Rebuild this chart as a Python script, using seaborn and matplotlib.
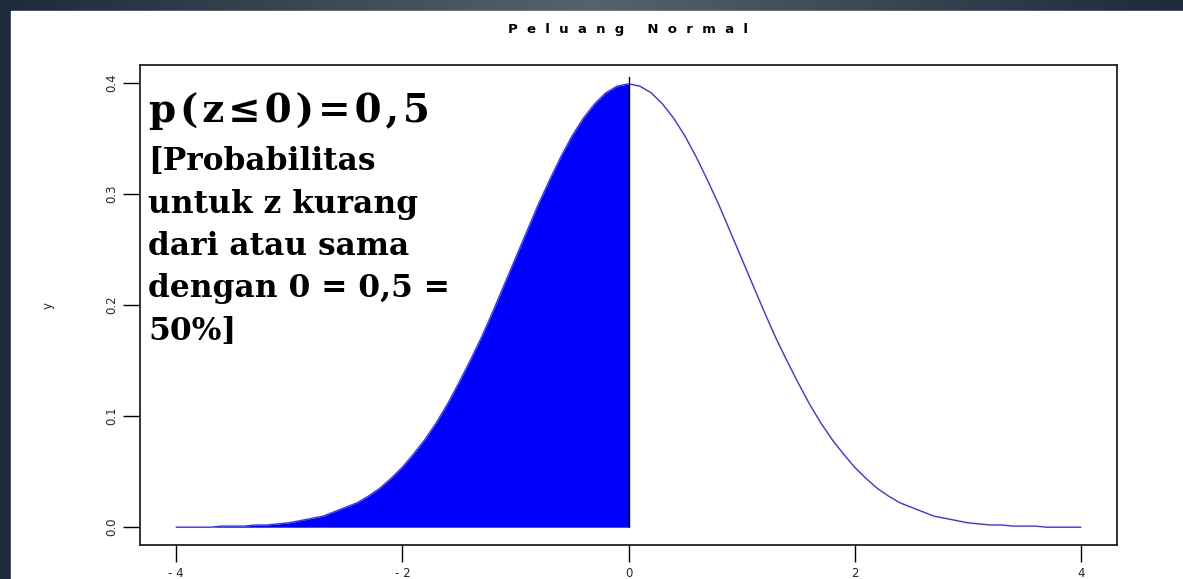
import numpy as np
import pandas as pd
import matplotlib
matplotlib.use("Agg")
import matplotlib.pyplot as plt
import seaborn as sns

# ---- data (standard normal density) ----
z_values = [-4.0, -3.9, -3.8, -3.7, -3.6, -3.5, -3.4, -3.3, -3.2, -3.1,
            -3.0, -2.9, -2.8, -2.7, -2.6, -2.5, -2.4, -2.3, -2.2, -2.1,
            -2.0, -1.9, -1.8, -1.7, -1.6, -1.5, -1.4, -1.3, -1.2, -1.1,
            -1.0, -0.9, -0.8, -0.7, -0.6, -0.5, -0.4, -0.3, -0.2, -0.1,
            0.0, 0.1, 0.2, 0.3, 0.4, 0.5, 0.6, 0.7, 0.8, 0.9,
            1.0, 1.1, 1.2, 1.3, 1.4, 1.5, 1.6, 1.7, 1.8, 1.9,
            2.0, 2.1, 2.2, 2.3, 2.4, 2.5, 2.6, 2.7, 2.8, 2.9,
            3.0, 3.1, 3.2, 3.3, 3.4, 3.5, 3.6, 3.7, 3.8, 3.9, 4.0]
density = [0.000, 0.000, 0.000, 0.000, 0.001, 0.001, 0.001, 0.002, 0.002, 0.003,
           0.004, 0.006, 0.008, 0.010, 0.014, 0.018, 0.022, 0.028, 0.035, 0.044,
           0.054, 0.066, 0.079, 0.094, 0.111, 0.130, 0.150, 0.171, 0.194, 0.218,
           0.242, 0.266, 0.290, 0.312, 0.333, 0.352, 0.368, 0.381, 0.391, 0.397,
           0.399, 0.397, 0.391, 0.381, 0.368, 0.352, 0.333, 0.312, 0.290, 0.266,
           0.242, 0.218, 0.194, 0.171, 0.150, 0.130, 0.111, 0.094, 0.079, 0.066,
           0.054, 0.044, 0.035, 0.028, 0.022, 0.018, 0.014, 0.010, 0.008, 0.006,
           0.004, 0.003, 0.002, 0.002, 0.001, 0.001, 0.001, 0.000, 0.000, 0.000, 0.000]
x_ticks = [-4, -2, 0, 2, 4]
x_tick_labels = ["- 4", "- 2", "0", "2", "4"]
y_ticks = [0.0, 0.1, 0.2, 0.3, 0.4]
y_tick_labels = ["0.0", "0.1", "0.2", "0.3", "0.4"]
shade_upper = 0.0
title_text = "P  e  l  u  a  n  g     N  o  r  m  a  l"
note_head = "p\u200a(\u200az\u200a≤\u200a0\u200a)\u200a=\u200a0\u200a,\u200a5"
note_lines = ["[Probabilitas", "untuk z kurang", "dari atau sama", "dengan 0 = 0,5 =", "50%]"]

df = pd.DataFrame({"z": z_values, "y": density})

W, H = 1183, 579
sns.set_theme(style="white")
plt.rcParams["font.family"] = ["DejaVu Sans"]
fig = plt.figure(figsize=(W / 100, H / 100), dpi=100)
fig.patch.set_facecolor("white")

# background slide gradient
bg = fig.add_axes([0, 0, 1, 1], zorder=-10)
grad = np.linspace(0, 1, 256)
prof = 1 - np.abs(grad - 0.5) * 2
c_dark = np.array([0x1b, 0x2b, 0x3c]) / 255
c_light = np.array([0x57, 0x62, 0x6c]) / 255
img = c_dark[None, :] + (c_light - c_dark)[None, :] * prof[:, None]
bg.imshow(img[None, :, :], aspect="auto", extent=[0, 1, 0, 1])
bg.add_patch(plt.Rectangle((11 / W, 0), 1, 1 - 11 / H, color="white", zorder=5))
bg.set_xlim(0, 1); bg.set_ylim(0, 1); bg.axis("off")

ax = fig.add_axes([140 / W, 34 / H, 977 / W, 480 / H])
ax.set_facecolor("white")

left = df[df["z"] <= shade_upper]
ax.fill_between(left["z"], 0, left["y"], color="#0000ff", linewidth=0, zorder=2)
sns.lineplot(data=df, x="z", y="y", ax=ax, color="#3333ff", linewidth=1.0,
             estimator=None, sort=True, zorder=3)
ax.plot([shade_upper, shade_upper], [0, 0.405], color="black", linewidth=1.0, zorder=4)

ax.set_xlim(-4.32, 4.32)
ax.set_ylim(-0.016, 0.416)
ax.set_xticks(x_ticks)
ax.set_xticklabels(x_tick_labels, fontsize=8.5)
ax.set_yticks(y_ticks)
ax.set_yticklabels(y_tick_labels, fontsize=8.5, rotation=90, va="center")
ax.tick_params(axis="both", direction="out", length=12, width=1, color="black",
               bottom=True, left=True, pad=4)
for s in ax.spines.values():
    s.set_color("#222222")
    s.set_linewidth(1.3)
ax.set_xlabel("")
ax.set_ylabel("y", fontsize=8.5, labelpad=36)

fig.text(628 / W, 1 - 30 / H, title_text, ha="center", va="center",
         fontsize=9.5, fontweight="bold", color="black")

fig.text(149 / W, 1 - 122 / H, note_head, ha="left", va="baseline",
         fontsize=28, fontweight="bold", family=["DejaVu Serif"], color="black")
for i, line in enumerate(note_lines):
    fig.text(148 / W, 1 - (170 + 42.5 * i) / H, line, ha="left", va="baseline",
             fontsize=22.5, fontweight="bold", family=["DejaVu Serif"], color="black")

fig.savefig("out.png", dpi=100)
